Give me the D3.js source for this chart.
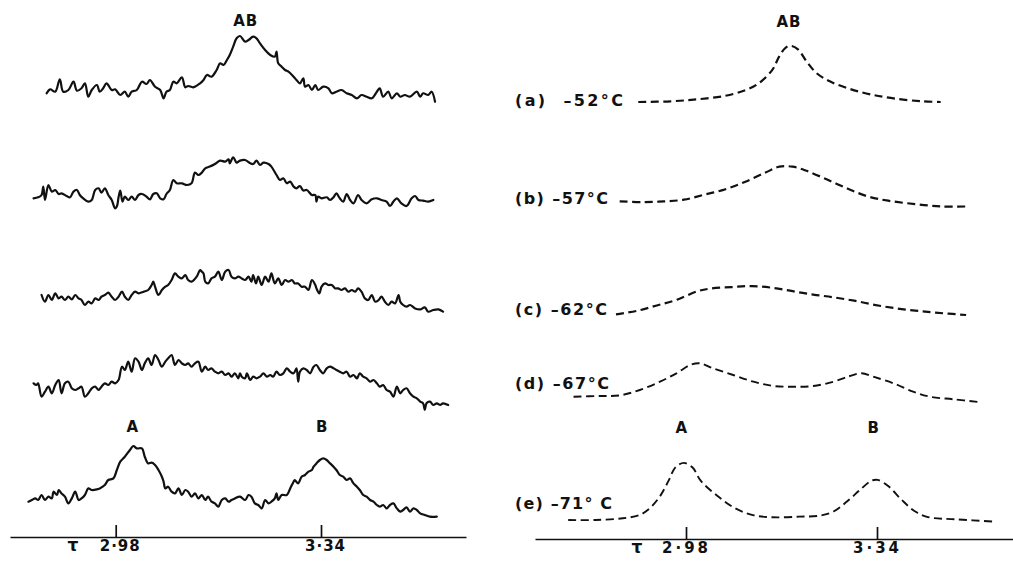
<!DOCTYPE html>
<html>
<head>
<meta charset="utf-8">
<script src="https://cdn.jsdelivr.net/npm/d3@7"></script>
<style>
  html, body { margin: 0; padding: 0; background: #fff; }
  svg { display: block; }
  text { font-family: "DejaVu Sans", "Liberation Sans", sans-serif; fill: #111; font-weight: bold; }
</style>
</head>
<body>
<svg id="chart" width="1013" height="562"></svg>
<script>
// Chemical shift axis (τ) tick values and their printed labels
const tickValues = [2.98, 3.34];
const tickLabels = ["2·98", "3·34"];

// Temperatures for rows (a)–(e)
const rowLabels = ["(a)  –52°C", "(b) –57°C", "(c) –62°C", "(d) –67°C", "(e) –71° C"];

// Observed spectra, [τ, intensity]
const observedA = [[2.859,6.7],[2.865,10.7],[2.874,8.3],[2.882,20.7],[2.888,8.3],[2.897,10],[2.906,18.3],[2.912,9.3],[2.920,11.7],[2.926,16.7],[2.932,3.3],[2.938,10],[2.947,15],[2.952,8.3],[2.958,11.7],[2.964,16.7],[2.973,10],[2.979,10.7],[2.988,5],[2.996,8.3],[3.002,3.3],[3.008,8.3],[3.017,10],[3.026,18.3],[3.034,16],[3.040,20],[3.049,13.3],[3.058,10],[3.064,1.7],[3.069,8.3],[3.075,10],[3.081,18.3],[3.087,16.7],[3.096,22.7],[3.102,12.7],[3.107,14],[3.116,12.7],[3.128,16.7],[3.134,20],[3.140,25],[3.148,23.3],[3.157,30],[3.163,36.7],[3.169,35],[3.175,40],[3.180,45],[3.186,53.3],[3.192,61.7],[3.198,64],[3.207,58.3],[3.213,60],[3.221,63.3],[3.227,61.7],[3.233,56.7],[3.242,50],[3.251,45],[3.259,43.3],[3.262,48.3],[3.265,36.7],[3.271,33.3],[3.277,30],[3.283,28.3],[3.292,23.3],[3.297,20],[3.303,16.7],[3.309,21.7],[3.312,13.3],[3.318,15],[3.324,10],[3.330,15],[3.335,10],[3.344,13.3],[3.353,11.7],[3.359,6.7],[3.367,8.3],[3.376,10],[3.385,6.7],[3.394,5],[3.403,1.7],[3.411,5],[3.420,3.3],[3.429,1.7],[3.438,8.3],[3.443,11.7],[3.449,3.3],[3.458,8.3],[3.464,1.7],[3.473,6.7],[3.479,3.3],[3.487,5],[3.496,3.3],[3.508,8.3],[3.514,3.3],[3.519,6.7],[3.528,5],[3.534,8.3],[3.540,-1.7]];

const observedB = [[2.836,10],[2.844,11],[2.850,13.3],[2.853,21.7],[2.856,8.3],[2.862,23.3],[2.868,16.7],[2.874,18.3],[2.880,14.3],[2.885,15],[2.894,12.3],[2.900,11],[2.906,16.7],[2.912,18.3],[2.917,13.3],[2.923,10],[2.932,6.7],[2.938,8.3],[2.944,18.3],[2.950,20],[2.955,15.7],[2.961,20],[2.967,13.3],[2.973,8.3],[2.979,0],[2.982,1.7],[2.985,11],[2.988,17.7],[2.992,6.7],[2.996,11.7],[3.002,8.3],[3.008,11.7],[3.014,8.3],[3.020,13.3],[3.026,14.3],[3.034,11.7],[3.040,9],[3.046,14.3],[3.052,15],[3.058,10],[3.064,9],[3.069,14.3],[3.075,18.3],[3.081,28.3],[3.087,25],[3.096,25],[3.105,23.3],[3.113,25],[3.119,35.7],[3.125,33.3],[3.131,35.7],[3.137,40],[3.145,41.7],[3.154,44.3],[3.163,47.7],[3.172,46.7],[3.178,49],[3.180,45],[3.186,51],[3.192,45.7],[3.198,47.7],[3.207,48.3],[3.216,45],[3.221,44.3],[3.227,47.7],[3.233,43.3],[3.239,45.7],[3.248,44.3],[3.253,41.7],[3.262,33.3],[3.268,28.3],[3.274,30],[3.280,25],[3.286,26.7],[3.292,21.7],[3.297,20],[3.303,22.3],[3.309,17.7],[3.315,18.3],[3.324,13.3],[3.330,13.3],[3.332,6.7],[3.335,11.7],[3.341,10],[3.350,11],[3.356,8.3],[3.362,11],[3.367,15],[3.373,10],[3.379,6.7],[3.385,14.3],[3.391,8.3],[3.397,5],[3.405,13.3],[3.411,8.3],[3.420,5],[3.429,9],[3.438,10],[3.446,8.3],[3.455,6.7],[3.461,2.3],[3.467,6.7],[3.473,10],[3.481,5],[3.490,2.3],[3.499,10],[3.505,12.3],[3.511,8.3],[3.519,7.7],[3.528,6.7],[3.537,8.3]];

const observedC = [[2.850,16.7],[2.856,10],[2.862,16.7],[2.868,11.7],[2.874,18.3],[2.880,13.3],[2.885,15],[2.891,11.7],[2.897,15],[2.903,12.3],[2.909,16.7],[2.915,13.3],[2.920,11.7],[2.926,6.7],[2.932,10],[2.938,8.3],[2.944,13.3],[2.950,11.7],[2.955,15],[2.961,16.7],[2.967,19],[2.973,15],[2.979,11.7],[2.985,15],[2.991,20],[2.996,15],[3.002,11.7],[3.008,16.7],[3.014,20],[3.020,18.3],[3.029,20],[3.037,21.7],[3.043,26.7],[3.046,30],[3.049,25],[3.055,16.7],[3.061,21.7],[3.067,25],[3.072,26.7],[3.078,31.7],[3.084,38.3],[3.090,35],[3.096,33.3],[3.102,36.7],[3.107,31.7],[3.113,30],[3.122,35],[3.128,41.7],[3.131,40],[3.134,38.3],[3.137,30],[3.142,28.3],[3.148,33.3],[3.154,35],[3.160,40],[3.166,31.7],[3.172,40],[3.178,41.7],[3.183,35],[3.189,33.3],[3.195,35],[3.201,33.3],[3.207,31.7],[3.213,35],[3.218,30],[3.221,36.7],[3.226,28.3],[3.230,35],[3.236,26.7],[3.242,35],[3.248,30],[3.253,38.3],[3.259,28.3],[3.265,33.3],[3.271,26.7],[3.277,31.7],[3.283,30],[3.289,31.7],[3.294,28.3],[3.300,28.3],[3.306,25],[3.312,25],[3.318,21.7],[3.324,31.7],[3.330,26.7],[3.332,23.3],[3.337,18.3],[3.341,25],[3.347,28.3],[3.353,26.7],[3.359,26.7],[3.365,23.3],[3.370,23.3],[3.376,21.7],[3.382,23.3],[3.388,20],[3.394,21.7],[3.400,20],[3.405,23.3],[3.411,20],[3.417,13.3],[3.423,11.7],[3.429,16.7],[3.435,10],[3.441,11.7],[3.446,15],[3.452,10],[3.458,6.7],[3.464,10],[3.470,8.3],[3.476,16.7],[3.479,10],[3.484,6.7],[3.490,5],[3.496,6.7],[3.505,3.3],[3.514,2.3],[3.522,4.3],[3.528,0],[3.537,1.7],[3.546,2.3],[3.554,0]];

const observedD = [[2.836,26.7],[2.841,25],[2.844,26.7],[2.850,13.3],[2.856,18.3],[2.862,23.3],[2.868,16.7],[2.874,25],[2.880,30],[2.885,16.7],[2.891,26.7],[2.897,28.3],[2.903,21.7],[2.909,20],[2.915,21.7],[2.920,23.3],[2.926,13.3],[2.932,16.7],[2.938,21.7],[2.944,23.3],[2.950,20],[2.955,23.3],[2.961,26.7],[2.967,25],[2.973,28.3],[2.979,26.7],[2.985,30],[2.991,43.3],[2.996,40],[3.002,48.3],[3.008,38.3],[3.014,51.7],[3.020,48.3],[3.026,40],[3.031,46.7],[3.037,51.7],[3.043,45],[3.049,55],[3.055,50],[3.061,43.3],[3.067,48.3],[3.072,51.7],[3.078,55],[3.084,45],[3.090,50],[3.096,46.7],[3.102,45],[3.107,46.7],[3.113,43.3],[3.119,46.7],[3.125,48.3],[3.131,38.3],[3.137,43.3],[3.142,40],[3.148,41.7],[3.154,38.3],[3.160,36.7],[3.166,38.3],[3.172,35],[3.178,36.7],[3.183,33.3],[3.189,36.7],[3.195,31.7],[3.198,36.7],[3.201,33.3],[3.207,31.7],[3.210,36.7],[3.216,30],[3.221,33.3],[3.227,31.7],[3.233,33.3],[3.239,36.7],[3.245,33.3],[3.251,35],[3.256,33.3],[3.262,38.3],[3.268,35],[3.274,36.7],[3.280,41.7],[3.286,38.3],[3.292,36.7],[3.297,41.7],[3.300,28.3],[3.303,38.3],[3.309,41.7],[3.315,40],[3.321,36.7],[3.327,43.3],[3.332,45],[3.338,40],[3.344,36.7],[3.350,41.7],[3.356,43.3],[3.362,41.7],[3.367,40],[3.373,38.3],[3.379,36.7],[3.385,38.3],[3.391,33.3],[3.397,35],[3.403,31.7],[3.408,36.7],[3.414,33.3],[3.420,31.7],[3.426,28.3],[3.432,30],[3.438,26.7],[3.443,23.3],[3.449,25],[3.455,20],[3.461,18.3],[3.467,13.3],[3.473,23.3],[3.479,16.7],[3.484,20],[3.490,21.7],[3.496,16.7],[3.502,13.3],[3.508,11.7],[3.514,8.3],[3.519,6.7],[3.522,0],[3.525,6.7],[3.531,8.3],[3.537,5],[3.543,6.7],[3.549,5],[3.554,6.7],[3.563,5]];

const observedE = [[2.827,15],[2.833,16.7],[2.839,18.3],[2.844,16.7],[2.850,21.7],[2.856,16.7],[2.862,20],[2.868,18.3],[2.871,25],[2.877,21.7],[2.880,26.7],[2.885,23.3],[2.891,20],[2.897,13.3],[2.903,18.3],[2.909,25],[2.915,16.7],[2.920,18.3],[2.926,21.7],[2.932,28.3],[2.938,26.7],[2.947,27.3],[2.952,28.3],[2.961,31.7],[2.967,36.7],[2.976,38.3],[2.982,46.7],[2.988,55],[2.996,60],[3.005,66.7],[3.011,70.7],[3.017,68.3],[3.026,68.3],[3.031,60],[3.037,53.3],[3.043,54],[3.049,51.7],[3.055,46.7],[3.061,40],[3.064,35],[3.067,28.3],[3.072,30],[3.078,25],[3.084,23.3],[3.090,28.3],[3.096,21.7],[3.102,26.7],[3.107,25],[3.113,20],[3.119,23.3],[3.125,18.3],[3.131,21.7],[3.137,16.7],[3.142,20],[3.148,15],[3.154,13.3],[3.160,10],[3.166,16.7],[3.172,18.3],[3.178,15],[3.183,16.7],[3.189,18.3],[3.198,20],[3.207,16.7],[3.213,21.7],[3.218,20],[3.224,13.3],[3.230,11.7],[3.236,8.3],[3.242,16.7],[3.248,13.3],[3.253,15],[3.259,18.3],[3.262,23.3],[3.265,16.7],[3.271,21.7],[3.280,21.7],[3.286,28.3],[3.292,35],[3.294,36.7],[3.300,33.3],[3.306,40],[3.312,41.7],[3.318,45],[3.324,46.7],[3.327,50],[3.332,53.3],[3.338,56.7],[3.344,58.3],[3.350,56.7],[3.356,53.3],[3.362,50],[3.367,46.7],[3.373,41.7],[3.379,40],[3.385,36.7],[3.391,38.3],[3.397,33.3],[3.403,30],[3.408,26.7],[3.414,21.7],[3.420,20],[3.426,16.7],[3.432,15],[3.438,11.7],[3.443,10],[3.449,11.7],[3.455,8.3],[3.461,11.7],[3.467,13.3],[3.473,8.3],[3.479,5],[3.484,6.7],[3.490,9.3],[3.496,5],[3.502,8.3],[3.508,6.7],[3.514,3.3],[3.522,1.7],[3.531,0],[3.543,0]];

// Calculated line shapes, [τ, intensity]
const calculatedA = [[2.890,0],[2.951,0.7],[3.002,2.7],[3.053,6.1],[3.092,11.9],[3.117,18.7],[3.143,32.3],[3.156,45.9],[3.168,54.4],[3.178,56.1],[3.191,52.7],[3.207,40.8],[3.226,28.9],[3.252,20.4],[3.290,12.9],[3.329,7.5],[3.374,3.4],[3.425,0.7],[3.460,0]];
const calculatedB = [[2.855,5.1],[2.899,4.4],[2.938,5.1],[2.976,6.8],[3.015,11.9],[3.053,17],[3.092,24.8],[3.130,34],[3.156,39.8],[3.181,39.8],[3.207,35.7],[3.245,27.2],[3.284,18],[3.322,10.2],[3.361,5.8],[3.412,2.4],[3.463,0],[3.508,0]];
const calculatedC = [[2.848,0.7],[2.887,4.1],[2.925,9.5],[2.963,15.3],[3.002,23.8],[3.027,26.5],[3.066,27.9],[3.104,28.9],[3.143,27.2],[3.181,23.8],[3.220,20.4],[3.258,17.7],[3.297,14.3],[3.335,10.2],[3.374,6.8],[3.412,4.4],[3.450,2.4],[3.508,0]];
const calculatedD = [[2.768,5.3],[2.818,6],[2.856,6.7],[2.893,12],[2.931,20.3],[2.962,28.7],[2.988,37],[3.006,38.7],[3.031,33.7],[3.069,27],[3.107,20.3],[3.145,16],[3.182,15.3],[3.220,16],[3.258,20.3],[3.289,26],[3.311,28.7],[3.333,25.3],[3.371,18.7],[3.408,10.3],[3.440,5.3],[3.484,2.7],[3.531,0]];
const calculatedE = [[2.758,2],[2.810,2],[2.861,3.7],[2.893,7.1],[2.912,13.9],[2.931,25.8],[2.947,41.1],[2.960,54.7],[2.976,59.1],[2.992,54.7],[3.008,41.1],[3.040,25.8],[3.072,13.9],[3.104,7.1],[3.143,4.7],[3.194,5.4],[3.233,6.4],[3.258,10.5],[3.284,20.7],[3.309,32.6],[3.329,41.1],[3.341,42.1],[3.361,36],[3.386,22.4],[3.412,10.5],[3.438,4.7],[3.489,2.7],[3.563,0.3]];

const observedSeries = [observedA, observedB, observedC, observedD, observedE];
const calculatedSeries = [calculatedA, calculatedB, calculatedC, calculatedD, calculatedE];

// Peak labels, anchored at a τ value
const observedPeakLabels = [["AB", 3.208, 0], ["A", 3.010, 4], ["B", 3.342, 4]];
const calculatedPeakLabels = [["AB", 3.174, 0], ["A", 2.972, 4], ["B", 3.334, 4]];

// Panel geometry (pixels)
const panels = {
  observed: { tickPx: [115.7, 321], extentPx: [10, 466], axisY: 537, tauX: 73,
              baselines: [100, 208.3, 311.7, 410, 516.7], labelY: [26, 0, 0, 0, 432], tickDx: 4, tickSpacing: 1 },
  calculated: { tickPx: [686, 877], extentPx: [535, 1013], axisY: 539, tauX: 637,
              baselines: [102, 206.5, 315, 402, 522], labelY: [27, 0, 0, 0, 433], tickDx: 0, tickSpacing: 3 }
};
const rowLabelX = 515;
const rowLabelBaselines = [106, 204, 315, 389, 509];
const rowLabelWidths = [108, 93, 92, 94, 97];

const svg = d3.select("#chart");

function makeX(p) {
  const byTicks = d3.scaleLinear().domain(tickValues).range(p.tickPx);
  return d3.scaleLinear().domain(p.extentPx.map(byTicks.invert)).range(p.extentPx);
}

function makeY(baseline) {
  return d3.scaleLinear().domain([0, 100]).range([baseline, baseline - 100]);
}

function drawAxis(p, x) {
  const axis = d3.axisBottom(x)
    .tickValues(tickValues)
    .tickFormat((d, i) => tickLabels[i])
    .tickSizeInner(-12)
    .tickSizeOuter(0)
    .tickPadding(3);
  const g = svg.append("g").attr("transform", `translate(0,${p.axisY})`).call(axis);
  g.attr("font-family", null).attr("font-size", null);
  g.select(".domain").attr("stroke", "#111").attr("stroke-width", 1.7);
  g.selectAll(".tick line").attr("stroke", "#111").attr("stroke-width", 1.7);
  g.selectAll(".tick text")
    .attr("fill", "#111")
    .attr("dx", p.tickDx)
    .style("font-size", "15px")
    .style("letter-spacing", p.tickSpacing + "px");
  svg.append("text")
    .attr("x", p.tauX).attr("y", p.axisY + 14)
    .attr("text-anchor", "middle")
    .style("font-size", "17px")
    .text("τ");
}

function drawPeakLabels(p, x, labels) {
  labels.forEach(([txt, tau, row]) => {
    svg.append("text")
      .attr("x", x(tau)).attr("y", p.labelY[row])
      .attr("text-anchor", "middle")
      .style("font-size", "15px")
      .style("letter-spacing", "1px")
      .text(txt);
  });
}

// Observed spectra: solid traces
const xObs = makeX(panels.observed);
drawAxis(panels.observed, xObs);
observedSeries.forEach((series, i) => {
  const y = makeY(panels.observed.baselines[i]);
  const line = d3.line().x(d => xObs(d[0])).y(d => y(d[1])).curve(d3.curveCatmullRom.alpha(0.5));
  svg.append("path")
    .datum(series)
    .attr("d", line)
    .attr("fill", "none")
    .attr("stroke", "#111")
    .attr("stroke-width", 2.2)
    .attr("stroke-linejoin", "round")
    .attr("stroke-linecap", "round");
});
drawPeakLabels(panels.observed, xObs, observedPeakLabels);

// Calculated spectra: dashed traces
const xCalc = makeX(panels.calculated);
drawAxis(panels.calculated, xCalc);
calculatedSeries.forEach((series, i) => {
  const y = makeY(panels.calculated.baselines[i]);
  const line = d3.line().x(d => xCalc(d[0])).y(d => y(d[1])).curve(d3.curveCatmullRom.alpha(0.5));
  svg.append("path")
    .datum(series)
    .attr("d", line)
    .attr("fill", "none")
    .attr("stroke", "#111")
    .attr("stroke-width", i >= 3 ? 1.9 : 2.2)
    .attr("stroke-dasharray", "8,4.5");
});
drawPeakLabels(panels.calculated, xCalc, calculatedPeakLabels);

// Temperature labels for each calculated trace
rowLabels.forEach((txt, i) => {
  svg.append("text")
    .attr("x", rowLabelX).attr("y", rowLabelBaselines[i])
    .attr("textLength", rowLabelWidths[i])
    .attr("lengthAdjust", "spacing")
    .style("font-size", "16px")
    .style("white-space", "pre")
    .text(txt);
});
</script>
</body>
</html>
